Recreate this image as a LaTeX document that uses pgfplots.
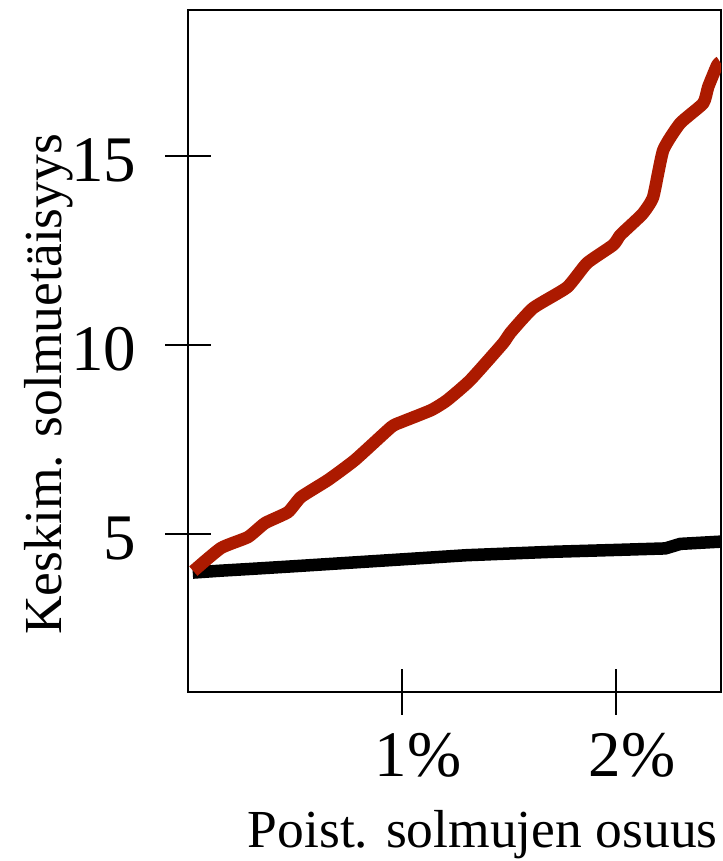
\documentclass[border=0pt]{standalone}
\usepackage{fontspec}
\setmainfont{Liberation Serif}
\usepackage{pgfplots}
\pgfplotsset{compat=1.18}
\definecolor{myred}{RGB}{172,26,0}
\begin{document}
\begin{tikzpicture}
\begin{axis}[name=ax, at={(0,0)}, anchor=south west,
  width=266.5pt, height=341pt, scale only axis,
  xmin=0, xmax=2.49, ymin=0.82, ymax=18.87,
  xtick={1,2}, xticklabels={1\%,2\%},
  ytick={5,10,15},
  xtick pos=bottom, ytick pos=left,
  tick align=center, major tick length=22.5pt,
  axis line style={line width=1pt},
  major tick style={line width=1pt, black},
  /pgf/number format/assume math mode=true,
  ticklabel style={font=\fontsize{32.5}{38}\selectfont, inner sep=0pt},
  yticklabel style={anchor=east, xshift=-14.5pt, yshift=-2pt},
  xticklabel style={anchor=north, yshift=-9pt, xshift=8pt},
  xlabel={Poist. solmujen osuus},
  ylabel={Keskim. solmuetäisyys},
  label style={font=\fontsize{26.75}{32}\selectfont, inner sep=0pt},
  xlabel style={at={(axis description cs:0.553,-0.2287)}, anchor=base},
  ylabel style={at={(axis description cs:-0.2364,0.451)}, anchor=base},
]
\addplot[black, line width=6.25pt, line join=round] coordinates {
(0.022,3.98) (0.15,4.03) (0.3,4.08) (0.5,4.15) (0.75,4.24) (1.0,4.33) (1.3,4.44) (1.7,4.53) (2.0,4.58) (2.23,4.62) (2.3,4.74) (2.49,4.80)
};
\addplot[myred, line width=6.25pt, line join=round, smooth, tension=0.3] coordinates {
(0.025,4.02)
(0.154,4.63)
(0.28,4.92)
(0.36,5.29)
(0.467,5.58)
(0.528,5.98)
(0.654,6.43)
(0.78,6.96)
(0.949,7.83)
(0.995,7.96)
(1.136,8.28)
(1.21,8.54)
(1.318,9.07)
(1.472,10.05)
(1.505,10.32)
(1.612,10.98)
(1.771,11.53)
(1.864,12.17)
(1.986,12.65)
(2.019,12.91)
(2.079,13.23)
(2.126,13.49)
(2.173,13.92)
(2.22,15.16)
(2.299,15.87)
(2.407,16.40)
(2.43,16.83)
(2.472,17.41)
(2.486,17.49)
};
\end{axis}
\pgfresetboundingbox
\path[use as bounding box] (-94pt,-84.5pt) rectangle (267pt,346pt);
\end{tikzpicture}
\end{document}
